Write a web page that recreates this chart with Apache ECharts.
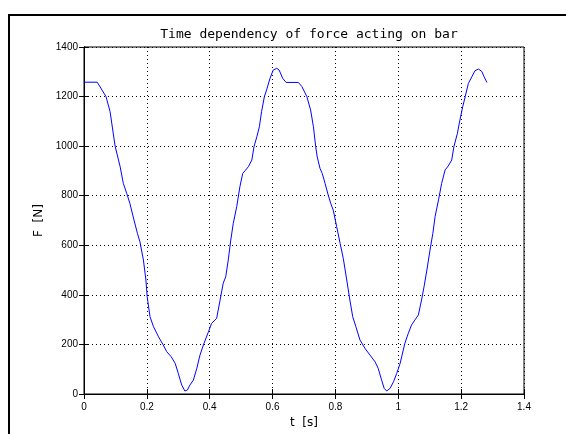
<!DOCTYPE html>
<html>
<head>
<meta charset="utf-8">
<script src="https://cdn.jsdelivr.net/npm/echarts@6/dist/echarts.min.js"></script>
<style>
  html, body { margin: 0; padding: 0; background: #fff; }
  #frame { position: absolute; left: 8px; top: 14px; width: 600px; height: 500px;
           border-left: 2px solid #000; border-top: 2px solid #000; }
  #main { position: absolute; left: 0; top: 0; width: 566px; height: 434px; }
</style>
</head>
<body>
<div id="frame"></div>
<div id="main"></div>
<script>
// time [s]
var time = [0, 0.042, 0.070, 0.083, 0.099, 0.115, 0.125, 0.136, 0.146, 0.159, 0.170, 0.178, 0.189, 0.197,
  0.201, 0.210, 0.221, 0.237, 0.252, 0.263, 0.277, 0.290, 0.300, 0.311, 0.321, 0.329, 0.337, 0.348,
  0.359, 0.369, 0.382, 0.396, 0.406, 0.422, 0.433, 0.443, 0.451, 0.459, 0.467, 0.475, 0.486, 0.496,
  0.505, 0.512, 0.523, 0.534, 0.541, 0.550, 0.558, 0.565, 0.574, 0.581, 0.592, 0.602, 0.613, 0.621,
  0.632, 0.643, 0.682, 0.693, 0.709, 0.721, 0.730, 0.737, 0.742, 0.751, 0.758, 0.767, 0.777, 0.785,
  0.793, 0.804, 0.815, 0.825, 0.836, 0.846, 0.855, 0.865, 0.878, 0.894, 0.910, 0.926, 0.936, 0.947,
  0.955, 0.963, 0.974, 0.985, 0.995, 1.006, 1.021, 1.032, 1.042, 1.053, 1.064, 1.074, 1.082, 1.091,
  1.101, 1.110, 1.117, 1.128, 1.138, 1.149, 1.159, 1.170, 1.177, 1.188, 1.196, 1.205, 1.213, 1.223,
  1.234, 1.244, 1.255, 1.266, 1.273, 1.282];
// force [N]
var force = [1258, 1258, 1200, 1139, 1000, 917, 850, 809, 769, 702, 648, 614, 541, 460,
  393, 312, 272, 231, 198, 171, 151, 124, 83, 36, 12, 16, 36, 56,
  104, 157, 205, 251, 285, 305, 379, 447, 473, 541, 621, 689, 756, 836,
  890, 900, 917, 944, 998, 1038, 1078, 1139, 1200, 1227, 1274, 1307, 1314, 1307,
  1274, 1257, 1257, 1241, 1200, 1146, 1078, 1000, 957, 910, 890, 850, 803, 769,
  742, 675, 607, 547, 460, 379, 312, 272, 218, 184, 157, 130, 104, 56,
  23, 12, 23, 50, 83, 124, 205, 245, 278, 299, 319, 379, 433, 500,
  581, 648, 715, 783, 850, 904, 920, 944, 998, 1051, 1105, 1159, 1200, 1253,
  1280, 1304, 1311, 1301, 1280, 1257];

var points = [];
for (var i = 0; i < time.length; i++) {
  points.push([time[i], force[i]]);
}

var myChart = echarts.init(document.getElementById('main'), null, { renderer: 'canvas' });
var tickFont = { color: '#000', fontFamily: 'Liberation Sans', fontSize: 10 };
var option = {
  animation: false,
  title: {
    text: 'Time dependency of force acting on bar',
    left: 304, top: 23, textAlign: 'center',
    textStyle: { fontFamily: 'DejaVu Sans Mono', fontSize: 13, fontWeight: 'normal', color: '#000' }
  },
  grid: { left: 84, top: 47, width: 440, height: 347, show: true, borderColor: '#000', borderWidth: 1 },
  xAxis: [{
    type: 'value', min: 0, max: 1.4, interval: 0.2,
    name: 't  [s]', nameLocation: 'middle', nameGap: 20,
    nameTextStyle: { color: '#000', fontFamily: 'DejaVu Sans', fontSize: 12 },
    axisLine: { show: true, lineStyle: { color: '#000' } },
    axisTick: { inside: true, length: 5, lineStyle: { color: '#000' } },
    axisLabel: Object.assign({ margin: 8, formatter: function (v) { return String(+v.toFixed(1)); } }, tickFont),
    splitLine: { show: true, lineStyle: { color: '#000', type: [1, 3], width: 1 } }
  }, {
    type: 'value', min: 0, max: 1.4, interval: 0.2, position: 'top',
    axisLine: { show: true, lineStyle: { color: '#000' } },
    axisTick: { inside: true, length: 5, lineStyle: { color: '#000' } },
    axisLabel: { show: false }, splitLine: { show: false }
  }],
  yAxis: [{
    type: 'value', min: 0, max: 1400, interval: 200,
    name: 'F  [N]', nameLocation: 'middle', nameGap: 38, nameRotate: 90,
    nameTextStyle: { color: '#000', fontFamily: 'DejaVu Sans', fontSize: 12 },
    axisLine: { show: true, lineStyle: { color: '#000' } },
    axisTick: { inside: true, length: 5, lineStyle: { color: '#000' } },
    axisLabel: Object.assign({ margin: 6, formatter: function (v) { return String(v); } }, tickFont),
    splitLine: { show: true, lineStyle: { color: '#000', type: [1, 3], width: 1 } }
  }, {
    type: 'value', min: 0, max: 1400, interval: 200, position: 'right',
    axisLine: { show: true, lineStyle: { color: '#000' } },
    axisTick: { inside: true, length: 5, lineStyle: { color: '#000' } },
    axisLabel: { show: false }, splitLine: { show: false }
  }],
  series: [{
    name: 'F', type: 'line', data: points, showSymbol: false, smooth: false,
    lineStyle: { color: '#0000ff', width: 1 }
  }]
};
myChart.setOption(option);
</script>
</body>
</html>
